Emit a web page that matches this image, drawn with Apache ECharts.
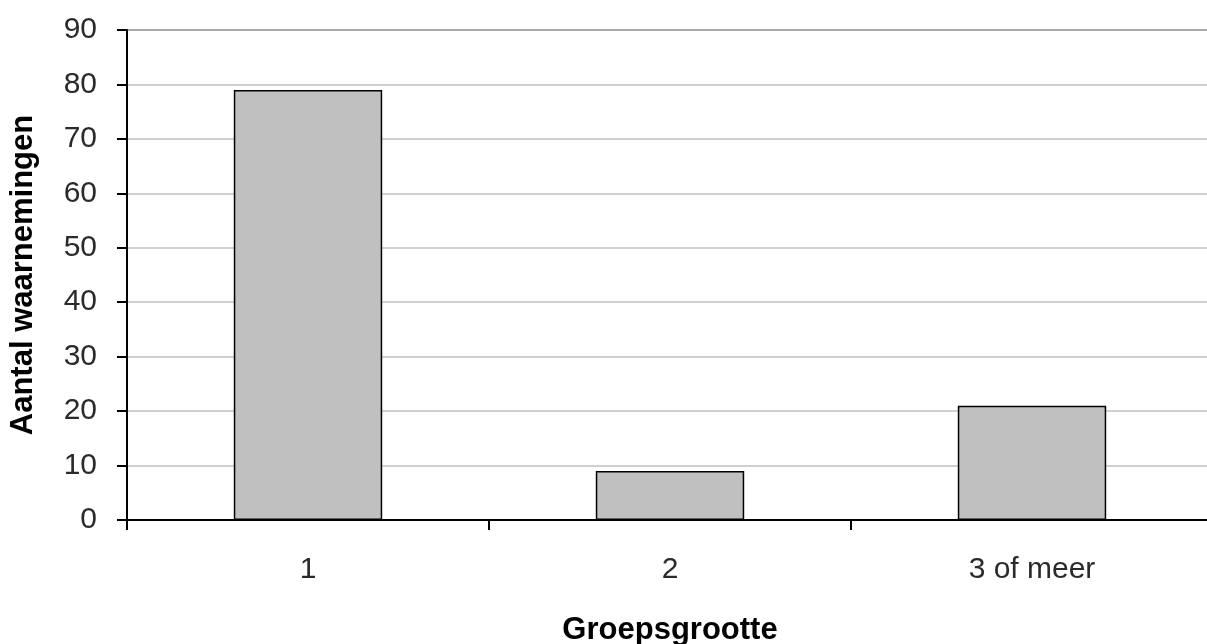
<!DOCTYPE html>
<html><head><meta charset="utf-8">
<script src="https://cdn.jsdelivr.net/npm/echarts@6/dist/echarts.min.js"></script>
<style>html,body{margin:0;padding:0;background:#fff}#c{width:1207px;height:644px}</style>
</head><body><div id="c"></div>
<script>
const categories = ['1', '2', '3 of meer'];
const values = [79, 9, 21];
const yTicks = { min: 0, max: 90, interval: 10 };

const gridColors = ['#c0c0c0','#c0c0c0','#c0c0c0','#c0c0c0','#c0c0c0','#c0c0c0','#c0c0c0','#c0c0c0','#c0c0c0','#8c8c8c'];

const chart = echarts.init(document.getElementById('c'));
chart.setOption({
  animation: false,
  grid: { left: 127, right: -6, top: 30, bottom: 124, containLabel: false, outerBoundsMode: 'none' },
  xAxis: {
    type: 'category', data: categories,
    name: 'Groepsgrootte', nameLocation: 'middle', nameGap: 95,
    nameTextStyle: { fontFamily: 'Liberation Sans', fontSize: 31, fontWeight: 'bold', color: '#000' },
    axisLine: { lineStyle: { color: '#000', width: 2 } },
    axisTick: { show: true, length: 10, lineStyle: { color: '#000', width: 2 } },
    axisLabel: { fontFamily: 'Liberation Sans', fontSize: 30, color: '#2a2a2a', margin: 35 }
  },
  yAxis: {
    type: 'value', min: yTicks.min, max: yTicks.max, interval: yTicks.interval,
    name: 'Aantal waarnemingen', nameLocation: 'middle', nameGap: 88, nameRotate: 90,
    nameTextStyle: { fontFamily: 'Liberation Sans', fontSize: 31, fontWeight: 'bold', color: '#000' },
    axisLine: { show: true, lineStyle: { color: '#000', width: 2 } },
    axisTick: { show: true, length: 10, lineStyle: { color: '#000', width: 2 } },
    axisLabel: { fontFamily: 'Liberation Sans', fontSize: 30, color: '#2a2a2a', margin: 30 },
    splitLine: { show: true, lineStyle: { color: gridColors, width: 1.5 } }
  },
  series: [{
    type: 'bar', data: values, barWidth: '41%',
    itemStyle: { color: '#c0c0c0', borderColor: '#000', borderWidth: 1.5 }
  }]
});
</script></body></html>
